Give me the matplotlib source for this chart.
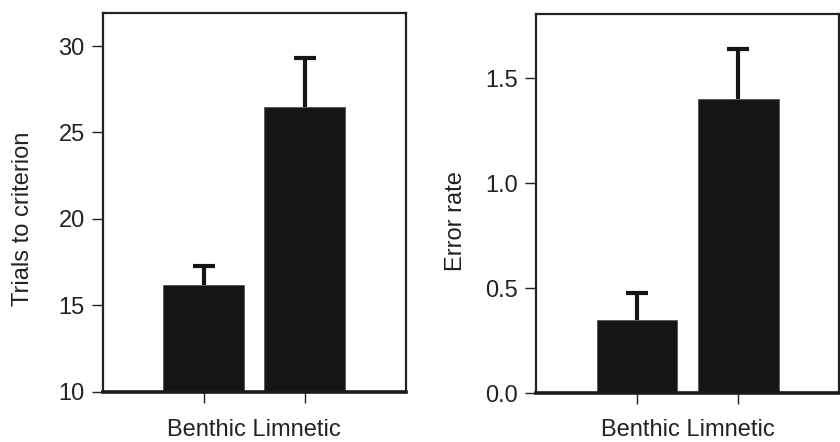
import matplotlib
matplotlib.use('Agg')
import matplotlib.pyplot as plt

# ── Data ───────────────────────────────────────────────────────────
groups = ['Benthic', 'Limnetic']

trials_mean = [16.2, 26.5]
trials_se   = [1.07, 2.78]

error_mean = [0.35, 1.40]
error_se   = [0.127, 0.24]

plt.rcParams['font.family'] = ['Liberation Sans', 'DejaVu Sans']
plt.rcParams['text.color'] = '#222222'
plt.rcParams['axes.labelcolor'] = '#222222'
plt.rcParams['xtick.color'] = '#222222'
plt.rcParams['ytick.color'] = '#222222'

FS = 17

fig = plt.figure(figsize=(8.4, 4.42), dpi=100)
ax1 = fig.add_axes([0.1223, 0.1138, 0.361, 0.8575])
ax2 = fig.add_axes([0.638, 0.1102, 0.361, 0.858])

xpos = [1, 2]
bar_color = '#151515'


def draw_panel(ax, means, ses, ylim, yticks, ytick_labels, ylabel, name_y):
    ax.bar(xpos, means, width=0.8, color=bar_color, edgecolor='#555555',
           linewidth=0.6, zorder=2)
    # upper error bars only
    eb = ax.errorbar(xpos, means, yerr=[[0] * len(ses), ses], fmt='none',
                     ecolor=bar_color, elinewidth=3, capsize=8, capthick=3,
                     zorder=1)
    eb[1][0].set_visible(False)   # hide lower caps
    ax.set_xlim(0, 3)
    ax.set_ylim(*ylim)
    ax.set_yticks(yticks)
    ax.set_yticklabels(ytick_labels)
    ax.set_xticks(xpos)
    ax.set_xticklabels(['', ''])
    ax.text(1.5, name_y, ' '.join(groups), transform=ax.get_xaxis_transform(),
            ha='center', va='baseline', fontsize=FS)
    ax.set_ylabel(ylabel, fontsize=FS)
    ax.yaxis.set_label_coords(-0.228, 0.455)
    ax.tick_params(axis='both', direction='out', length=8, width=1,
                   pad=5, labelsize=FS)
    for s in ['left', 'top', 'right']:
        ax.spines[s].set_linewidth(1.6)
        ax.spines[s].set_color('#222222')
    ax.spines['bottom'].set_linewidth(2.6)
    ax.spines['bottom'].set_color('#1a1a1a')


draw_panel(ax1, trials_mean, trials_se, (10, 31.93),
           [10, 15, 20, 25, 30], ['10', '15', '20', '25', '30'],
           'Trials to criterion', -0.118)
draw_panel(ax2, error_mean, error_se, (0, 1.806),
           [0.0, 0.5, 1.0, 1.5], ['0.0', '0.5', '1.0', '1.5'],
           'Error rate', -0.112)

fig.savefig('out.png', dpi=100)
